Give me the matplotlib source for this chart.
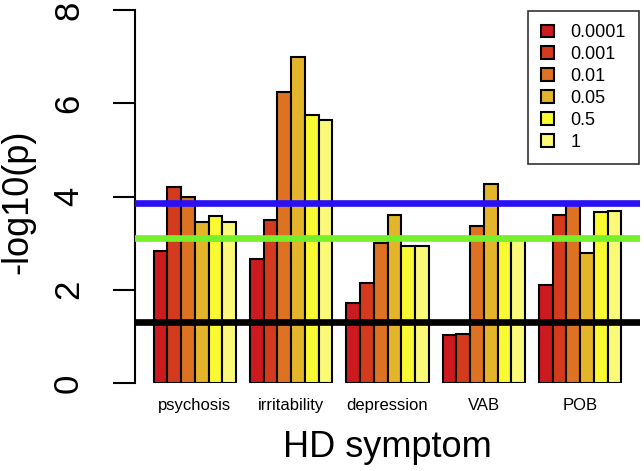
import matplotlib
matplotlib.use('Agg')
import matplotlib.pyplot as plt
import numpy as np

plt.rcParams['font.family'] = ['Liberation Sans', 'DejaVu Sans']

symptoms = ['psychosis', 'irritability', 'depression', 'VAB', 'POB']
thresholds = ['0.0001', '0.001', '0.01', '0.05', '0.5', '1']
colors = ['#CC1B1E', '#D43B1E', '#DC7222', '#E4B42A', '#FAFA32', '#FAFA78']

# -log10(p) per symptom, one value per threshold
psychosis = [2.83, 4.21, 3.98, 3.46, 3.58, 3.46]
irritability = [2.67, 3.50, 6.25, 6.99, 5.74, 5.64]
depression = [1.71, 2.15, 3.01, 3.60, 2.94, 2.94]
vab = [1.02, 1.05, 3.37, 4.27, 3.08, 3.08]
pob = [2.10, 3.60, 3.82, 2.78, 3.66, 3.69]
values = [psychosis, irritability, depression, vab, pob]

hlines = [(1.30, 'black'), (3.10, '#76F02A'), (3.87, '#2A10F5')]

fig = plt.figure(figsize=(6.44, 4.71), dpi=100)
ax = fig.add_axes([135/644, 88/471, 505/644, 373/471])

n = len(thresholds)
for g, vals in enumerate(values):
    for j, v in enumerate(vals):
        ax.bar(1 + 7*g + j, v, width=1, align='edge', color=colors[j],
               edgecolor='black', linewidth=1.5, zorder=2,
               label=thresholds[j] if g == 0 else None)

for y, c in hlines:
    ax.axhline(y, color=c, linewidth=4.8, zorder=3)

ax.set_xlim(-0.36, 36.36)
ax.set_ylim(0, 8)

centers = [1 + 7*g + n/2 for g in range(len(symptoms))]
ax.set_xticks(centers)
ax.set_xticklabels(symptoms, fontsize=12)
ax.tick_params(axis='x', length=0, pad=11)

ax.set_yticks([0, 2, 4, 6, 8])
ax.tick_params(axis='y', length=16, width=1.5, pad=20, labelsize=25)
for lab in ax.get_yticklabels():
    lab.set_rotation(90)
    lab.set_va('center')

for s in ['top', 'right', 'bottom']:
    ax.spines[s].set_visible(False)
ax.spines['left'].set_linewidth(1.5)
ax.spines['left'].set_bounds(0, 8)

ax.set_xlabel('HD symptom', fontsize=26, labelpad=12)
ax.set_ylabel('-log10(p)', fontsize=26)
ax.yaxis.set_label_coords(-0.197, 0.485)

leg = ax.legend(loc='upper right', bbox_to_anchor=(639/644, 1 - 11/471),
                bbox_transform=fig.transFigure, fontsize=13, frameon=True,
                fancybox=False, edgecolor='black', handlelength=0.72,
                handleheight=0.72, handletextpad=0.9, labelspacing=0.27,
                borderpad=0.74, borderaxespad=0)
leg.get_frame().set_linewidth(1.2)
leg.set_zorder(5)

fig.savefig('out.png', dpi=100)
